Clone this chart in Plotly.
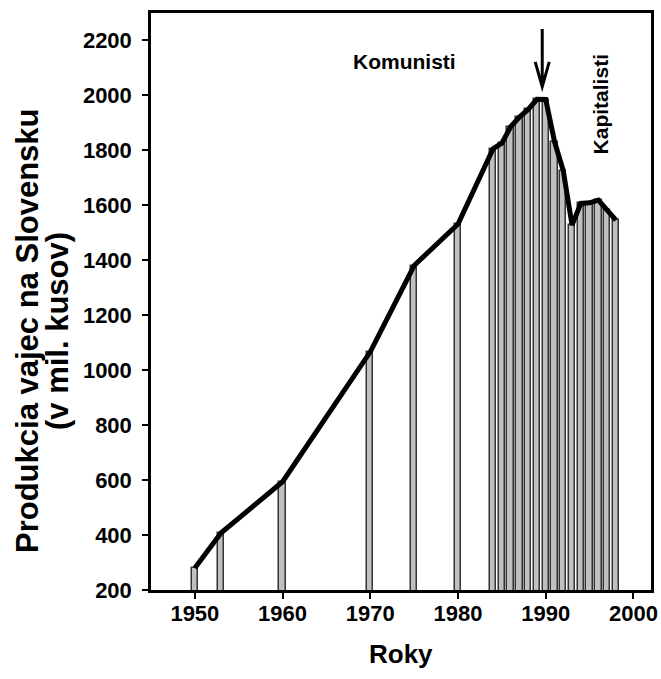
import plotly.graph_objects as go

years = [1950, 1953, 1960, 1970, 1975, 1980, 1984, 1985, 1986, 1987, 1988,
         1989, 1990, 1991, 1992, 1993, 1994, 1995, 1996, 1997, 1998]
eggs = [280, 408, 594, 1067, 1381, 1532, 1806, 1826, 1886, 1921, 1949,
        1986, 1985, 1832, 1726, 1528, 1607, 1609, 1619, 1582, 1546]

x_ticks = [1950, 1960, 1970, 1980, 1990, 2000]
y_ticks = [200, 400, 600, 800, 1000, 1200, 1400, 1600, 1800, 2000, 2200]

y_title_1 = "Produkcia vajec na Slovensku"
y_title_2 = "(v mil. kusov)"
x_title = "Roky"
label_left = "Komunisti"
label_right = "Kapitalisti"

arrow_x = 1989.6
arrow_top = 2242
arrow_tip = 2032
arrow_wing = 2122
arrow_half = 0.8

FONT = "Arial, Liberation Sans, sans-serif"

fig = go.Figure()
fig.add_trace(go.Bar(
    x=years, y=eggs, width=0.72,
    marker=dict(color="#c0c0c0", line=dict(color="#333333", width=1.5)),
    showlegend=False, hoverinfo="skip",
))
fig.add_trace(go.Scatter(
    x=years, y=eggs, mode="lines",
    line=dict(color="black", width=5),
    showlegend=False,
))

fig.add_shape(
    type="path", xref="x", yref="y",
    path=(f"M {arrow_x},{arrow_top} L {arrow_x},{arrow_tip} "
          f"M {arrow_x - arrow_half},{arrow_wing} L {arrow_x},{arrow_tip} "
          f"L {arrow_x + arrow_half},{arrow_wing}"),
    line=dict(color="black", width=3),
)

fig.add_annotation(x=1973.9, y=2123, xref="x", yref="y", text=label_left,
                   showarrow=False, font=dict(family=FONT, size=21, color="black"),
                   xanchor="center", yanchor="middle")
fig.add_annotation(x=1996.35, y=1969, xref="x", yref="y", text=label_right,
                   showarrow=False, textangle=-90,
                   font=dict(family=FONT, size=21, color="black"),
                   xanchor="center", yanchor="middle")

# plot area: x 151..651, y 13..590 (px)
fig.add_annotation(x=(27 - 151) / 500, y=(590 - 331) / 577, xref="paper", yref="paper",
                   text=y_title_1, showarrow=False, textangle=-90,
                   font=dict(family=FONT, size=31, color="black"),
                   xanchor="center", yanchor="middle")
fig.add_annotation(x=(57 - 151) / 500, y=(590 - 331) / 577, xref="paper", yref="paper",
                   text=y_title_2, showarrow=False, textangle=-90,
                   font=dict(family=FONT, size=31, color="black"),
                   xanchor="center", yanchor="middle")
fig.add_annotation(x=0.5, y=(590 - 654) / 577, xref="paper", yref="paper", text=x_title,
                   showarrow=False,
                   font=dict(family=FONT, size=26, color="black"),
                   xanchor="center", yanchor="middle")

fig.update_layout(
    width=661, height=679,
    margin=dict(l=151, r=10, t=13, b=89, autoexpand=False),
    paper_bgcolor="white", plot_bgcolor="white",
    font=dict(family=FONT, color="black"),
    bargap=0,
)
fig.update_xaxes(
    range=[1945, 2002], tickvals=x_ticks, ticktext=[str(v) for v in x_ticks],
    ticks="outside", ticklen=6, tickwidth=2, tickcolor="black",
    showline=True, linecolor="black", linewidth=2.5, mirror=True,
    showgrid=False, zeroline=False, ticklabelstandoff=-4, automargin=False,
    tickfont=dict(family=FONT, size=22, color="black", weight="bold"),
)
fig.update_yaxes(
    range=[200, 2300], tickvals=y_ticks, ticktext=[str(v) for v in y_ticks],
    ticks="outside", ticklen=6, tickwidth=2, tickcolor="black",
    showline=True, linecolor="black", linewidth=2.5, mirror=True,
    showgrid=False, zeroline=False, ticklabelstandoff=6, automargin=False,
    tickfont=dict(family=FONT, size=22, color="black", weight="bold"),
)
for a in fig.layout.annotations:
    a.font.weight = "bold"

fig.write_html(
    "out.html",
    config={"displayModeBar": False},
    post_script="document.body.style.margin='0';document.body.style.overflow='hidden';",
)
